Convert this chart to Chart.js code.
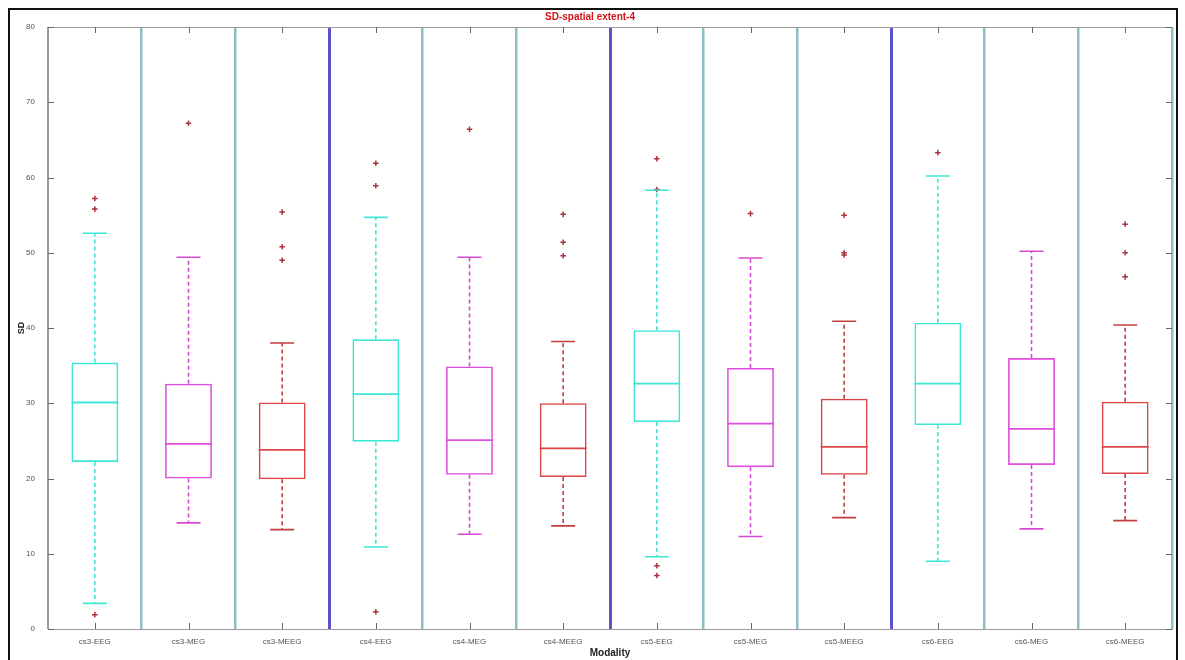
<!DOCTYPE html>
<html>
<head>
<meta charset="utf-8">
<script src="https://cdn.jsdelivr.net/npm/chart.js@4.4.1/dist/chart.umd.min.js"></script>
<style>
  html, body { margin: 0; padding: 0; background: #fff; }
  #wrap { width: 1185px; height: 660px; }
</style>
</head>
<body>
<div id="wrap"><canvas id="boxChart"></canvas></div>
<script>
// values
var labels = ['cs3-EEG', 'cs3-MEG', 'cs3-MEEG', 'cs4-EEG', 'cs4-MEG', 'cs4-MEEG',
              'cs5-EEG', 'cs5-MEG', 'cs5-MEEG', 'cs6-EEG', 'cs6-MEG', 'cs6-MEEG'];
var whiskerLow  = [3.4, 14.1, 13.2, 10.9, 12.6, 13.7, 9.6, 12.3, 14.8, 9.0, 13.3, 14.4];
var q1          = [22.2, 20.0, 19.9, 24.9, 20.5, 20.2, 27.5, 21.5, 20.5, 27.1, 21.8, 20.6];
var median      = [30.1, 24.6, 23.8, 31.2, 25.1, 24.0, 32.6, 27.3, 24.2, 32.6, 26.6, 24.2];
var q3          = [35.4, 32.6, 30.1, 38.5, 34.9, 30.0, 39.7, 34.7, 30.6, 40.7, 36.0, 30.2];
var whiskerHigh = [52.6, 49.4, 38.0, 54.7, 49.4, 38.2, 58.3, 49.3, 40.9, 60.2, 50.2, 40.4];
var outliers = [[57.2, 55.8, 1.9], [67.2], [55.4, 50.8, 49.0], [61.9, 58.9, 2.3], [66.4],
                [55.1, 51.4, 49.6], [62.5, 58.4, 8.4, 7.1], [55.2], [55.0, 50.0, 49.7],
                [63.3], [], [53.8, 50.0, 46.8]];
var yTicks = [0, 10, 20, 30, 40, 50, 60, 70, 80];

var modalityColors = ['#3ee6d6', '#e04ee0', '#dc4646'];
var whiskerColors = ['#3ee6d6', '#d34ad3', '#c23e3e'];

var boxes = [];
var boxColors = [];
var outlierPoints = [];
for (var i in labels) {
  boxes.push([q1[i], q3[i]]);
  boxColors.push(modalityColors[i % 3]);
  for (var j in outliers[i]) {
    outlierPoints.push({ x: labels[i], y: outliers[i][j] });
  }
}

var boxParts = {
  id: 'boxParts',
  afterDraw: function(chart) {
    var ctx = chart.ctx;
    var area = chart.chartArea;
    var xs = chart.scales.x;
    var ys = chart.scales.y;
    ctx.save();
    // black outer frame
    ctx.strokeStyle = '#111';
    ctx.lineWidth = 2;
    ctx.beginPath();
    ctx.moveTo(9, 700); ctx.lineTo(9, 9); ctx.lineTo(1177, 9); ctx.lineTo(1177, 700);
    ctx.stroke();
    // top axis line
    ctx.strokeStyle = '#9a9a9a';
    ctx.lineWidth = 1;
    ctx.beginPath();
    ctx.moveTo(area.left, area.top + 0.5); ctx.lineTo(area.right, area.top + 0.5);
    ctx.stroke();
    // inward tick marks
    ctx.strokeStyle = '#666';
    ctx.beginPath();
    yTicks.forEach(function(v) {
      var y = Math.round(ys.getPixelForValue(v)) + 0.5;
      ctx.moveTo(area.left, y); ctx.lineTo(area.left + 6, y);
      ctx.moveTo(area.right - 6, y); ctx.lineTo(area.right, y);
    });
    labels.forEach(function(l, k) {
      var x = Math.round(xs.getPixelForValue(k)) + 0.5;
      ctx.moveTo(x, area.top); ctx.lineTo(x, area.top + 6);
      ctx.moveTo(x, area.bottom); ctx.lineTo(x, area.bottom - 6);
    });
    ctx.stroke();
    ctx.restore();
  },
  afterDatasetsDraw: function(chart) {
    var ctx = chart.ctx;
    var ys = chart.scales.y;
    var meta = chart.getDatasetMeta(0);
    ctx.save();
    for (var k = 0; k < labels.length; k++) {
      var bar = meta.data[k];
      var x = bar.x;
      var half = bar.width / 2;
      var col = whiskerColors[k % 3];
      var yQ1 = ys.getPixelForValue(q1[k]);
      var yQ3 = ys.getPixelForValue(q3[k]);
      var yLo = ys.getPixelForValue(whiskerLow[k]);
      var yHi = ys.getPixelForValue(whiskerHigh[k]);
      var yMed = ys.getPixelForValue(median[k]);
      ctx.strokeStyle = col;
      ctx.lineWidth = 1.6;
      ctx.setLineDash([4, 3]);
      ctx.beginPath();
      ctx.moveTo(x, yQ3); ctx.lineTo(x, yHi);
      ctx.moveTo(x, yQ1); ctx.lineTo(x, yLo);
      ctx.stroke();
      ctx.setLineDash([]);
      ctx.beginPath();
      ctx.moveTo(x - 12, yHi); ctx.lineTo(x + 12, yHi);
      ctx.moveTo(x - 12, yLo); ctx.lineTo(x + 12, yLo);
      ctx.stroke();
      ctx.strokeStyle = modalityColors[k % 3];
      ctx.lineWidth = 1.8;
      ctx.beginPath();
      ctx.moveTo(x - half, yMed); ctx.lineTo(x + half, yMed);
      ctx.stroke();
    }
    ctx.restore();
  }
};

function gridColor(c) {
  if (c.index === 0) return '#9a9a9a';
  if (c.index % 3 === 0 && c.index < labels.length) return '#5a52c8';
  return '#8cbec4';
}
function gridWidth(c) {
  if (c.index === 0) return 1;
  if (c.index % 3 === 0 && c.index < labels.length) return 3;
  return 2.5;
}

var boxChart = new Chart(document.getElementById('boxChart').getContext('2d'), {
  type: 'bar',
  data: {
    labels: labels,
    datasets: [{
      data: boxes,
      backgroundColor: 'rgba(255,255,255,0)',
      borderColor: boxColors,
      borderWidth: 1.6,
      borderSkipped: false,
      barPercentage: 0.5,
      categoryPercentage: 1,
      grouped: false
    }, {
      type: 'line',
      data: outlierPoints,
      showLine: false,
      pointStyle: 'cross',
      pointRadius: 2.8,
      pointBorderColor: '#a8343e',
      pointBorderWidth: 1.5,
      pointBackgroundColor: '#a8343e'
    }]
  },
  options: {
    responsive: true,
    maintainAspectRatio: false,
    animation: false,
    layout: { padding: { left: 8, right: 13, top: 0, bottom: 0 } },
    plugins: {
      legend: { display: false },
      tooltip: { enabled: false },
      title: {
        display: true,
        text: 'SD-spatial extent-4',
        color: '#d41414',
        font: { family: 'Liberation Sans', size: 10, weight: 'bold' },
        padding: { top: 11, bottom: 4 }
      }
    },
    scales: {
      x: {
        afterFit: function(scale) { scale.height = 31; },
        grid: { offset: true, drawTicks: false, color: gridColor, lineWidth: gridWidth },
        border: { display: true, color: '#9a9a9a', width: 1 },
        ticks: {
          color: '#555', padding: 8, maxRotation: 0, autoSkip: false,
          font: { family: 'Liberation Sans', size: 8 }
        },
        title: {
          display: true, text: 'Modality', color: '#222',
          font: { family: 'Liberation Sans', size: 10, weight: 'bold' },
          padding: { top: 0, bottom: 1 }
        }
      },
      y: {
        min: 0,
        max: 80,
        afterFit: function(scale) { scale.width = 40; },
        afterBuildTicks: function(scale) {
          scale.ticks = yTicks.map(function(v) { return { value: v }; });
        },
        grid: { display: false },
        border: { display: true, color: '#9a9a9a', width: 1 },
        ticks: {
          color: '#555', padding: 5,
          font: { family: 'Liberation Sans', size: 8 }
        },
        title: {
          display: true, text: 'SD', color: '#222',
          font: { family: 'Liberation Sans', size: 9, weight: 'bold' },
          padding: { top: 8, bottom: 0 }
        }
      }
    }
  },
  plugins: [boxParts]
});
</script>
</body>
</html>
